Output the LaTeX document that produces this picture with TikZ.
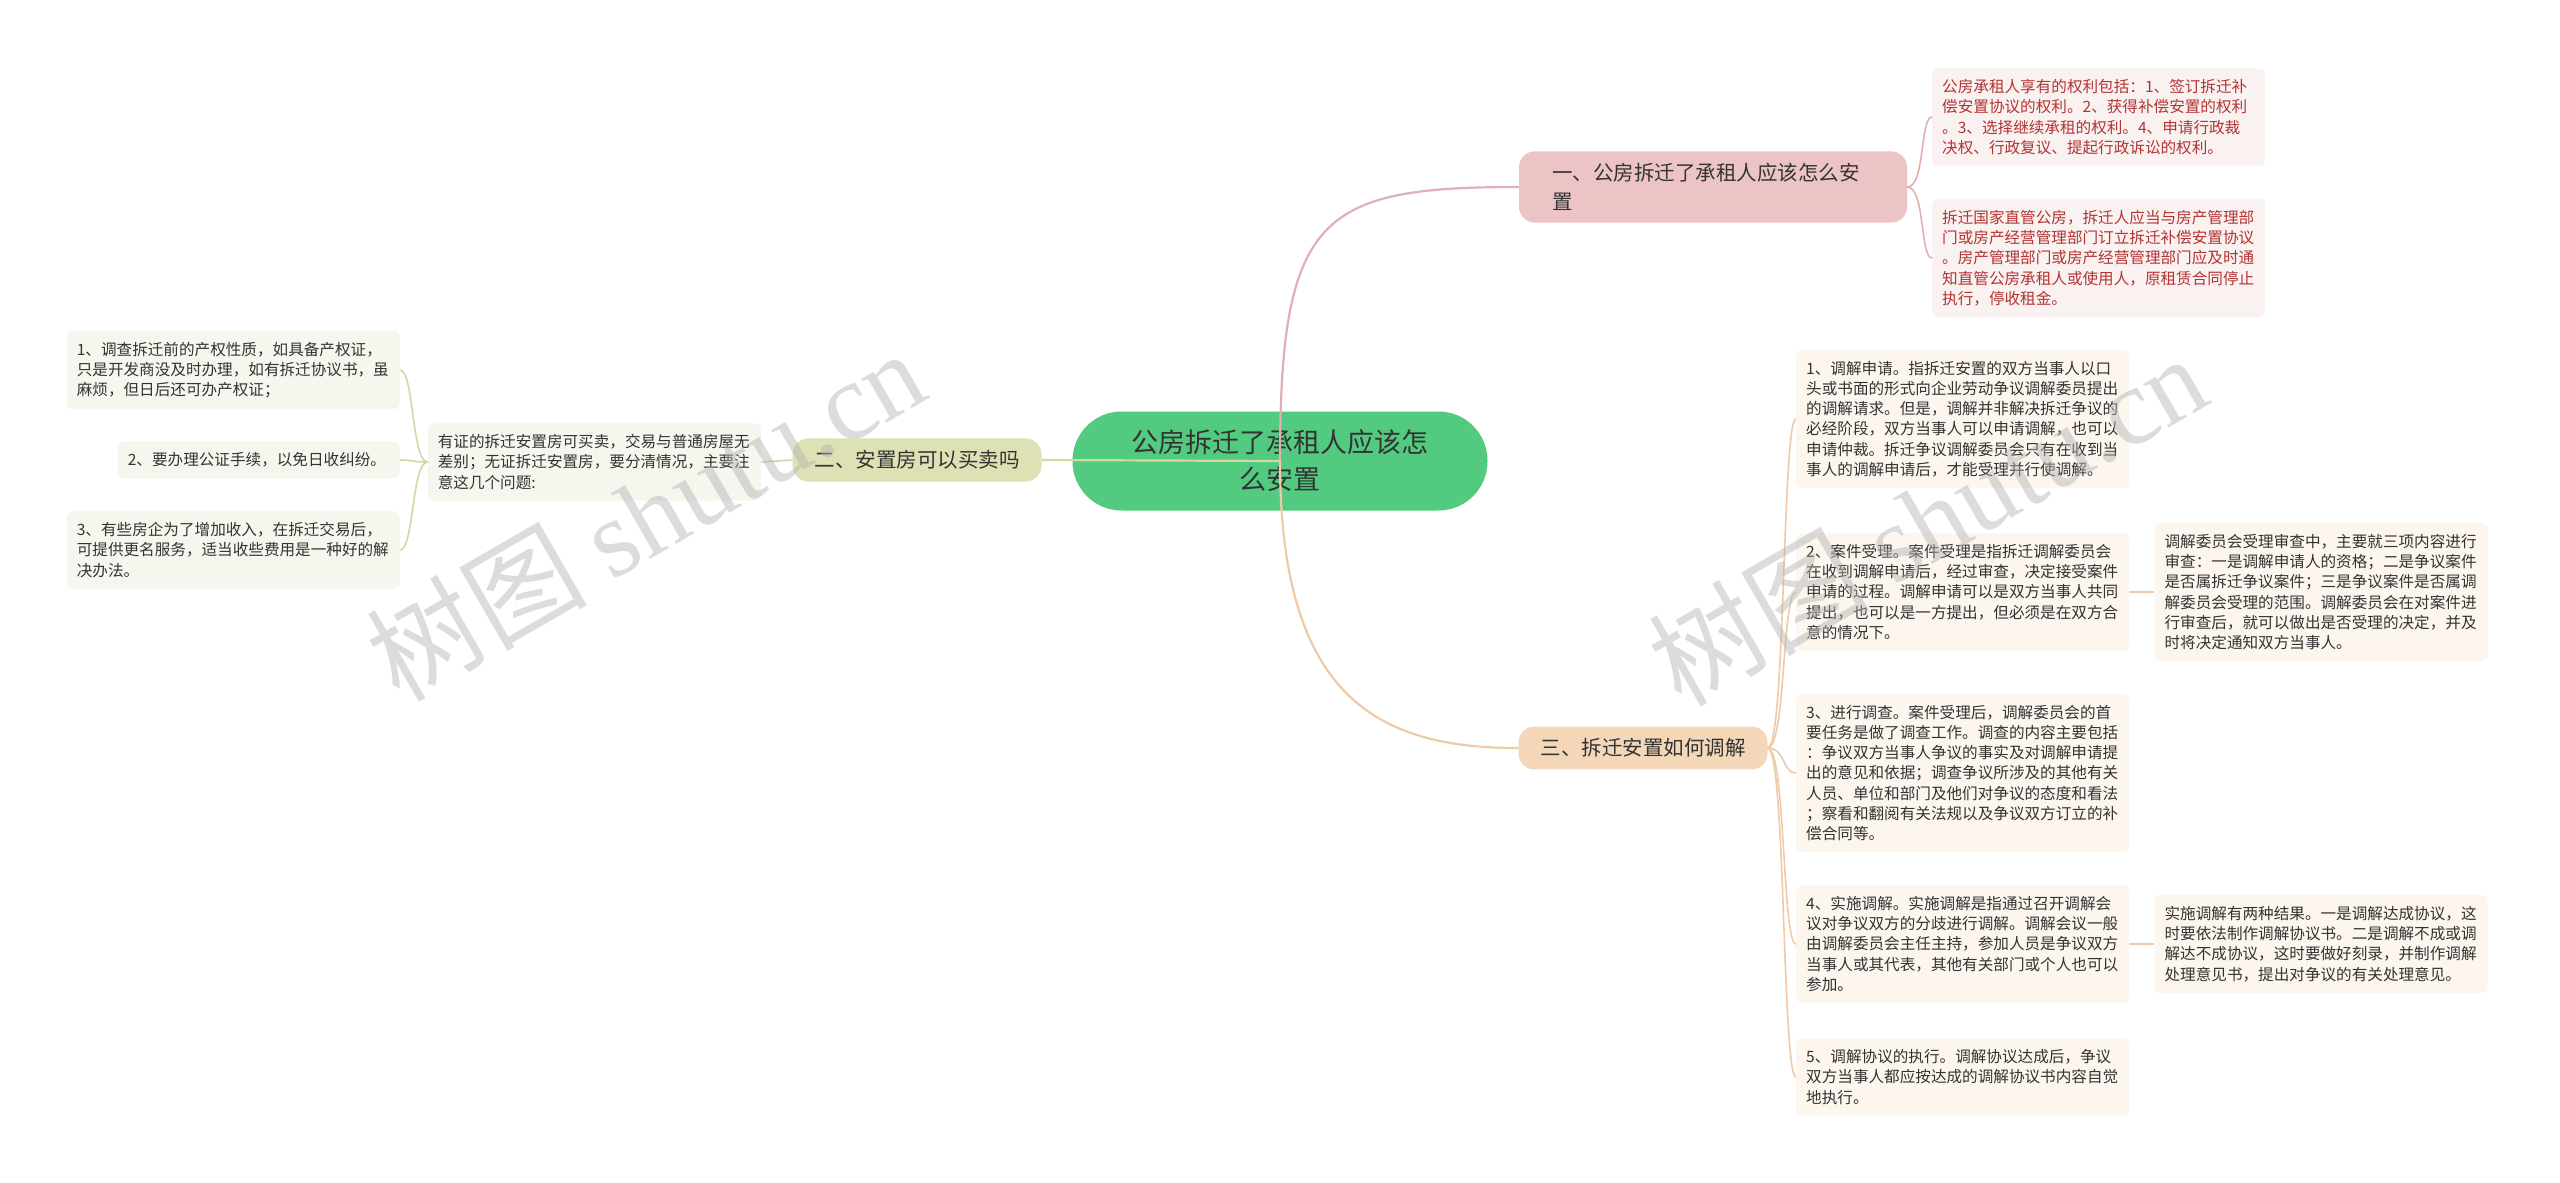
\documentclass[tikz,border=0pt]{standalone}
\usepackage{fontspec}
\setmainfont{Noto Sans CJK SC}
\newfontfamily\wmfont{Liberation Serif}
\usetikzlibrary{positioning}
\definecolor{rootgreen}{RGB}{82,202,128}
\definecolor{textdark}{RGB}{51,51,51}
\definecolor{pinktopic}{RGB}{236,196,198}
\definecolor{pinkline}{RGB}{224,176,180}
\definecolor{pinkleaf}{RGB}{250,241,241}
\definecolor{pinktext}{RGB}{178,52,52}
\definecolor{olivetopic}{RGB}{221,225,180}
\definecolor{oliveline}{RGB}{210,216,160}
\definecolor{oliveleaf}{RGB}{245,246,237}
\definecolor{peachtopic}{RGB}{244,215,185}
\definecolor{peachline}{RGB}{238,202,166}
\definecolor{peachleaf}{RGB}{252,246,239}

\begin{document}
\begin{tikzpicture}[
  x=1pt, y=-1pt,
  rootbox/.style={rectangle, rounded corners=49pt, fill=rootgreen, minimum width=415pt, minimum height=99pt, align=center, text=textdark, font=\fontsize{27}{37}\selectfont},
  topic/.style={rectangle, rounded corners=16pt, inner xsep=22pt, inner ysep=12pt, align=left, text=textdark, font=\fontsize{20.5}{29}\selectfont},
  leaf/.style={rectangle, rounded corners=6pt, inner xsep=10pt, inner ysep=11pt, text width=313pt, align=left, font=\fontsize{15.6}{20.3}\selectfont},
  pinkleafbox/.style={leaf, fill=pinkleaf, text=pinktext},
  oliveleafbox/.style={leaf, fill=oliveleaf, text=textdark},
  peachleafbox/.style={leaf, fill=peachleaf, text=textdark},
  link/.style={line width=2.2pt},
  twig/.style={line width=1.6pt},
  wmark/.style={text=gray!60, opacity=0.45, rotate=30, font=\fontsize{110}{110}\selectfont}
]
\useasboundingbox (0,0) rectangle (2560,1183);

\node[rootbox] (root) at (1280,461) {公房拆迁了承租人应该怎\\么安置};

\node[topic, fill=pinktopic, text width=322pt, inner xsep=33pt] (b1) at (1713,187) {一、公房拆迁了承租人应该怎么安\\置};
\node[topic, fill=olivetopic] (b2) at (917,460) {二、安置房可以买卖吗};
\node[topic, fill=peachtopic] (b3) at (1643,748) {三、拆迁安置如何调解};

\node[pinkleafbox, anchor=west] (lA) at (1932,117) {公房承租人享有的权利包括：1、签订拆迁补\\偿安置协议的权利。2、获得补偿安置的权利\\。3、选择继续承租的权利。4、申请行政裁\\决权、行政复议、提起行政诉讼的权利。};
\node[pinkleafbox, anchor=west] (lB) at (1932,258) {拆迁国家直管公房，拆迁人应当与房产管理部\\门或房产经营管理部门订立拆迁补偿安置协议\\。房产管理部门或房产经营管理部门应及时通\\知直管公房承租人或使用人，原租赁合同停止\\执行，停收租金。};

\node[oliveleafbox, anchor=east] (l0) at (761,462) {有证的拆迁安置房可买卖，交易与普通房屋无\\差别；无证拆迁安置房，要分清情况，主要注\\意这几个问题:};
\node[oliveleafbox, anchor=east] (l1) at (400,370) {1、调查拆迁前的产权性质，如具备产权证，\\只是开发商没及时办理，如有拆迁协议书，虽\\麻烦，但日后还可办产权证；};
\node[oliveleafbox, anchor=east, text width=262pt] (l2) at (400,460) {2、要办理公证手续，以免日收纠纷。};
\node[oliveleafbox, anchor=east] (l3) at (400,550) {3、有些房企为了增加收入，在拆迁交易后，\\可提供更名服务，适当收些费用是一种好的解\\决办法。};

\node[peachleafbox, anchor=west] (c1) at (1796,419) {1、调解申请。指拆迁安置的双方当事人以口\\头或书面的形式向企业劳动争议调解委员提出\\的调解请求。但是，调解并非解决拆迁争议的\\必经阶段，双方当事人可以申请调解，也可以\\申请仲裁。拆迁争议调解委员会只有在收到当\\事人的调解申请后，才能受理并行使调解。};
\node[peachleafbox, anchor=west] (c2) at (1796,592) {2、案件受理。案件受理是指拆迁调解委员会\\在收到调解申请后，经过审查，决定接受案件\\申请的过程。调解申请可以是双方当事人共同\\提出，也可以是一方提出，但必须是在双方合\\意的情况下。};
\node[peachleafbox, anchor=west] (c3) at (1796,773) {3、进行调查。案件受理后，调解委员会的首\\要任务是做了调查工作。调查的内容主要包括\\：争议双方当事人争议的事实及对调解申请提\\出的意见和依据；调查争议所涉及的其他有关\\人员、单位和部门及他们对争议的态度和看法\\；察看和翻阅有关法规以及争议双方订立的补\\偿合同等。};
\node[peachleafbox, anchor=west] (c4) at (1796,944) {4、实施调解。实施调解是指通过召开调解会\\议对争议双方的分歧进行调解。调解会议一般\\由调解委员会主任主持，参加人员是争议双方\\当事人或其代表，其他有关部门或个人也可以\\参加。};
\node[peachleafbox, anchor=west] (c5) at (1796,1077) {5、调解协议的执行。调解协议达成后，争议\\双方当事人都应按达成的调解协议书内容自觉\\地执行。};
\node[peachleafbox, right=25pt of c2] (c2a) {调解委员会受理审查中，主要就三项内容进行\\审查：一是调解申请人的资格；二是争议案件\\是否属拆迁争议案件；三是争议案件是否属调\\解委员会受理的范围。调解委员会在对案件进\\行审查后，就可以做出是否受理的决定，并及\\时将决定通知双方当事人。};
\node[peachleafbox, right=25pt of c4] (c4a) {实施调解有两种结果。一是调解达成协议，这\\时要依法制作调解协议书。二是调解不成或调\\解达不成协议，这时要做好刻录，并制作调解\\处理意见书，提出对争议的有关处理意见。};

\draw[link, pinkline] (root.center) .. controls (1280,215) and (1320,187) .. (b1.west);
\draw[link, oliveline] (root.center) -- (b2.east);
\draw[link, peachline] (root.center) .. controls (1280,700) and (1380,748) .. (b3.west);

\foreach \l in {lA,lB}
  \draw[twig, pinkline] (b1.east) .. controls +(18,0) and +(-12,0) .. (\l.west);
\draw[twig, oliveline] (b2.west) -- (l0.east);
\foreach \l in {l1,l2,l3}
  \draw[twig, oliveline] (l0.west) .. controls +(-16,0) and +(14,0) .. (\l.east);
\foreach \c in {c1,c2,c3,c4,c5}
  \draw[twig, peachline] (b3.east) .. controls +(18,0) and +(-14,0) .. (\c.west);
\draw[twig, peachline] (c2.east) -- (c2a.west);
\draw[twig, peachline] (c4.east) -- (c4a.west);

\node[wmark] (wm1) at (645,514) {树图 {\wmfont shutu.cn}};
\node[wmark] (wm2) at (1927,519) {树图 {\wmfont shutu.cn}};

\end{tikzpicture}
\end{document}
